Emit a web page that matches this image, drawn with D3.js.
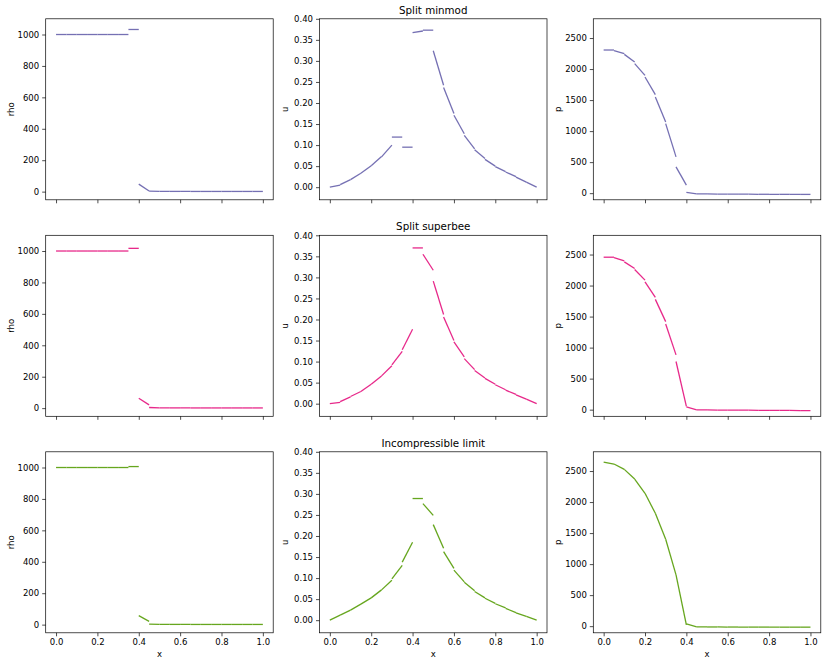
<!DOCTYPE html>
<html>
<head>
<meta charset="utf-8">
<script src="https://cdn.jsdelivr.net/npm/d3@7"></script>
<style>
  body { margin: 0; background: #fff; }
  text { font-family: "DejaVu Sans", sans-serif; }
</style>
</head>
<body>
<script>
// cell edges (20 cells)
const xEdges = [0, 0.05, 0.1, 0.15, 0.2, 0.25, 0.3, 0.35, 0.4, 0.45, 0.5,
  0.55, 0.6, 0.65, 0.7, 0.75, 0.8, 0.85, 0.9, 0.95, 1.0];

// each cell: [value at left edge, value at right edge]
const rhoMinmod = [[1000,1000],[1000,1000],[1000,1000],[1000,1000],[1000,1000],[1000,1000],[1000,1000],
  [1032,1032],[48,4],[3,2],[2,1.5],[1.5,1.5],[1.5,1.2],[1.2,1.2],[1.2,1.2],[1.2,1.2],[1.2,1.2],[1.2,1.2],[1.2,1.2],[1.2,1.2]];
const uMinmod = [[0,0.005],[0.006,0.018],[0.018,0.033],[0.033,0.051],[0.051,0.073],[0.072,0.100],
  [0.119,0.119],[0.095,0.095],[0.367,0.371],[0.373,0.373],[0.324,0.242],[0.237,0.175],[0.171,0.127],
  [0.123,0.091],[0.089,0.068],[0.066,0.050],[0.049,0.037],[0.036,0.025],[0.024,0.012],[0.012,0]];
const pMinmod = [[2307,2307],[2296,2248],[2237,2114],[2087,1899],[1872,1588],[1550,1148],[1121,585],
  [424,129],[11,-11],[-12,-13],[-13,-14],[-14,-15],[-15,-16],[-16,-17],[-17,-18],[-18,-18],[-18,-19],
  [-19,-19],[-19,-20],[-20,-20]];

const rhoSuperbee = [[1000,1000],[1000,1000],[1000,1000],[1000,1000],[1000,1000],[1000,1000],[1000,1000],
  [1017,1017],[63,21],[4,2],[2,1.5],[1.5,1.5],[1.5,1.2],[1.2,1.2],[1.2,1.2],[1.2,1.2],[1.2,1.2],[1.2,1.2],[1.2,1.2],[1.2,1.2]];
const uSuperbee = [[0,0.003],[0.005,0.016],[0.017,0.029],[0.029,0.046],[0.046,0.066],[0.066,0.090],
  [0.092,0.124],[0.128,0.177],[0.370,0.370],[0.355,0.317],[0.291,0.212],[0.206,0.150],[0.147,0.111],
  [0.107,0.081],[0.079,0.061],[0.060,0.046],[0.045,0.033],[0.032,0.022],[0.021,0.011],[0.011,0]];
const pSuperbee = [[2457,2457],[2452,2398],[2382,2275],[2259,2088],[2061,1809],[1777,1419],[1381,883],
  [776,54],[43,-3],[-4,-5],[-5,-6],[-6,-7],[-7,-8],[-8,-9],[-9,-10],[-10,-11],[-11,-12],[-12,-13],
  [-13,-14],[-14,-16]];

const rhoIncomp = [[1000,1000],[1000,1000],[1000,1000],[1000,1000],[1000,1000],[1000,1000],[1000,1000],
  [1006,1006],[57,21],[3,2],[2,1.5],[1.5,1.5],[1.5,1.2],[1.2,1.2],[1.2,1.2],[1.2,1.2],[1.2,1.2],[1.2,1.2],[1.2,1.2],[1.2,1.2]];
const uIncomp = [[0,0.012],[0.012,0.024],[0.024,0.038],[0.038,0.053],[0.053,0.072],[0.072,0.095],
  [0.098,0.130],[0.138,0.185],[0.289,0.289],[0.277,0.249],[0.227,0.171],[0.163,0.123],[0.119,0.091],
  [0.090,0.070],[0.068,0.053],[0.052,0.040],[0.039,0.029],[0.028,0.018],[0.0175,0.009],[0.009,0]];
const pIncomp = [[2645,2613],[2613,2527],[2527,2371],[2371,2141],[2141,1819],[1819,1400],[1400,826],
  [826,20],[35,-12],[-12,-13],[-13,-13],[-13,-14],[-14,-14],[-14,-15],[-15,-15],[-15,-15],[-15,-16],
  [-16,-16],[-16,-16],[-16,-16]];

const rowTitles = ["Split minmod", "Split superbee", "Incompressible limit"];
const rowColors = ["#7570b3", "#e7298a", "#66a61e"];
const varNames = ["rho", "u", "p"];

const xTicks = [0, 0.2, 0.4, 0.6, 0.8, 1.0];
const rhoTicks = [0, 200, 400, 600, 800, 1000];
const uTicks = [0, 0.05, 0.10, 0.15, 0.20, 0.25, 0.30, 0.35, 0.40];
const pTicks = [0, 500, 1000, 1500, 2000, 2500];

const series = [
  [rhoMinmod, uMinmod, pMinmod],
  [rhoSuperbee, uSuperbee, pSuperbee],
  [rhoIncomp, uIncomp, pIncomp]
];
const yLims = [[-52, 1100], [-0.03, 0.40], [-107, 2810]];
const yTicks = [rhoTicks, uTicks, pTicks];
const yFormats = [d3.format("d"), d3.format(".2f"), d3.format("d")];

const width = 830, height = 666;
const panelW = 227.5, panelH = 181;
const left0 = 45.7, colStep = 273.8;
const top0 = 18.8, rowStep = 216.5;

const svg = d3.select("body").append("svg")
  .attr("width", width)
  .attr("height", height);

const x = d3.scaleLinear().domain([-0.05, 1.05]).range([0, panelW]);

series.forEach((row, r) => {
  row.forEach((cells, c) => {
    const g = svg.append("g")
      .attr("transform", `translate(${left0 + c * colStep},${top0 + r * rowStep})`);

    const y = d3.scaleLinear().domain(yLims[c]).range([panelH, 0]);

    // one segment per cell
    g.selectAll("line.cell")
      .data(cells)
      .join("line")
      .attr("class", "cell")
      .attr("x1", (d, i) => x(xEdges[i]))
      .attr("x2", (d, i) => x(xEdges[i + 1]))
      .attr("y1", d => y(d[0]))
      .attr("y2", d => y(d[1]))
      .attr("stroke", rowColors[r])
      .attr("stroke-width", 1.3);

    const xAxis = d3.axisBottom(x)
      .tickValues(xTicks)
      .tickSize(3.5)
      .tickPadding(3)
      .tickFormat(r === 2 ? d3.format(".1f") : () => "");

    const yAxis = d3.axisLeft(y)
      .tickValues(yTicks[c])
      .tickSize(3.5)
      .tickPadding(3)
      .tickFormat(yFormats[c]);

    g.append("g")
      .attr("transform", `translate(0,${panelH})`)
      .call(xAxis)
      .call(a => a.select(".domain").remove());

    g.append("g")
      .call(yAxis)
      .call(a => a.select(".domain").remove());

    g.selectAll(".tick line").attr("stroke", "#000").attr("stroke-width", 0.7);
    g.selectAll(".tick text")
      .attr("font-size", 8.5)
      .attr("font-family", "DejaVu Sans")
      .attr("fill", "#000");

    // frame
    g.append("rect")
      .attr("width", panelW)
      .attr("height", panelH)
      .attr("fill", "none")
      .attr("stroke", "#000")
      .attr("stroke-width", 0.7);

    // y label
    g.append("text")
      .attr("transform", `translate(-32,${panelH / 2}) rotate(-90)`)
      .attr("text-anchor", "middle")
      .attr("font-size", 8.5)
      .text(varNames[c]);

    if (r === 2) {
      g.append("text")
        .attr("x", panelW / 2)
        .attr("y", panelH + 24)
        .attr("text-anchor", "middle")
        .attr("font-size", 8.5)
        .text("x");
    }

    if (c === 1) {
      g.append("text")
        .attr("x", panelW / 2)
        .attr("y", -5)
        .attr("text-anchor", "middle")
        .attr("font-size", 10.3)
        .text(rowTitles[r]);
    }
  });
});
</script>
</body>
</html>
